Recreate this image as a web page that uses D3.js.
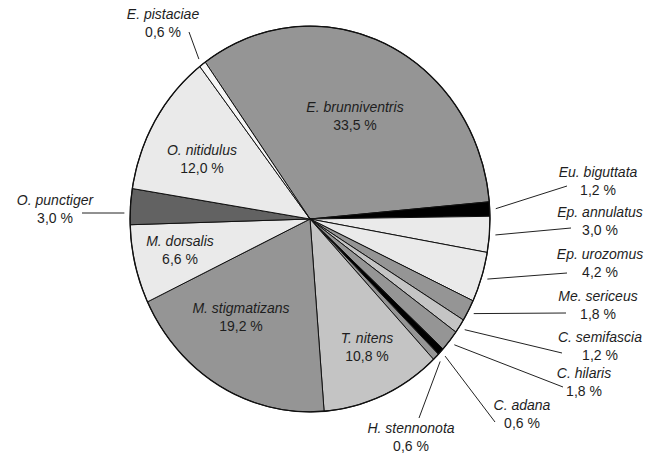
<!DOCTYPE html>
<html>
<head>
<meta charset="utf-8">
<script src="https://cdn.jsdelivr.net/npm/d3@7"></script>
<style>
  html, body { margin: 0; padding: 0; background: #fff; }
  svg { display: block; }
  text { font-family: "Liberation Sans", Arial, sans-serif; font-size: 14px; fill: #1e1e1e; }
</style>
</head>
<body>
<svg id="chart" width="646" height="455"></svg>
<script>
// ---- data ----
const categories = ["E. brunniventris", "Eu. biguttata", "Ep. annulatus", "Ep. urozomus", "Me. sericeus",
  "C. semifascia", "C. hilaris", "C. adana", "H. stennonota", "T. nitens", "M. stigmatizans",
  "M. dorsalis", "O. punctiger", "O. nitidulus", "E. pistaciae"];
const values = [33.5, 1.2, 3.0, 4.2, 1.8, 1.2, 1.8, 0.6, 0.6, 10.8, 19.2, 6.6, 3.0, 12.0, 0.6];
const percentLabels = ["33,5 %", "1,2 %", "3,0 %", "4,2 %", "1,8 %", "1,2 %", "1,8 %", "0,6 %", "0,6 %",
  "10,8 %", "19,2 %", "6,6 %", "3,0 %", "12,0 %", "0,6 %"];

// ---- styles / layout (not data) ----
const fills = ["#959595", "#000000", "#eaeaea", "#eaeaea", "#959595", "#c4c4c4", "#959595", "#000000",
  "#959595", "#c4c4c4", "#959595", "#eaeaea", "#626262", "#eaeaea", "#f6f6f6"];
// label anchor: x centre, y baseline of first line; leader end (lx, ly) when label is outside
const labelPos = [
  {x: 355, y: 112},
  {x: 598, y: 177, lx: 567, ly: 186},
  {x: 600, y: 217, lx: 571, ly: 228},
  {x: 600, y: 259, lx: 567, ly: 273},
  {x: 598, y: 301, lx: 566, ly: 313},
  {x: 600, y: 342, lx: 562, ly: 353},
  {x: 584, y: 378, lx: 563, ly: 387},
  {x: 522, y: 410, lx: 495, ly: 422},
  {x: 411, y: 433, lx: 419, ly: 418},
  {x: 367, y: 343},
  {x: 241, y: 313},
  {x: 180, y: 246},
  {x: 55, y: 205, lx: 82, ly: 213},
  {x: 202, y: 155},
  {x: 163, y: 19, lx: 189, ly: 32}
];

const cx = 310, cy = 219, R = 180, yScale = 1.072;
const startAngle = -35.6 * Math.PI / 180;

const svg = d3.select("#chart");

const pie = d3.pie().sort(null).value(d => d)
  .startAngle(startAngle).endAngle(startAngle + 2 * Math.PI);
const arcs = pie(values);
const arc = d3.arc().innerRadius(0).outerRadius(R);

const g = svg.append("g").attr("transform", `translate(${cx},${cy}) scale(1,${yScale})`);
g.selectAll("path.slice").data(arcs).join("path")
  .attr("class", "slice")
  .attr("d", arc)
  .attr("fill", (d, i) => fills[i])
  .attr("stroke", "#111")
  .attr("stroke-width", 1)
  .attr("stroke-linejoin", "round")
  .attr("vector-effect", "non-scaling-stroke");

// outer border
g.append("circle").attr("r", R).attr("fill", "none").attr("stroke", "#111")
  .attr("stroke-width", 1.3).attr("vector-effect", "non-scaling-stroke");

// leader lines
function edgePoint(a, r) {
  return [cx + r * Math.sin(a), cy - yScale * r * Math.cos(a)];
}
arcs.forEach((d, i) => {
  const p = labelPos[i];
  if (p.lx === undefined) return;
  const mid = (d.startAngle + d.endAngle) / 2;
  let [sx, sy] = edgePoint(mid, 186);
  if (categories[i] === "O. punctiger") sy = p.ly; // horizontal leader as in the original
  svg.append("line")
    .attr("x1", sx).attr("y1", sy).attr("x2", p.lx).attr("y2", p.ly)
    .attr("stroke", "#222").attr("stroke-width", 1);
});

// labels
const lbl = svg.append("g").selectAll("text").data(arcs).join("text")
  .attr("text-anchor", "middle");
lbl.append("tspan")
  .attr("x", (d, i) => labelPos[i].x)
  .attr("y", (d, i) => labelPos[i].y)
  .attr("font-style", "italic")
  .text((d, i) => categories[i]);
lbl.append("tspan")
  .attr("x", (d, i) => labelPos[i].x)
  .attr("y", (d, i) => labelPos[i].y + 18)
  .text((d, i) => percentLabels[i]);
</script>
</body>
</html>
